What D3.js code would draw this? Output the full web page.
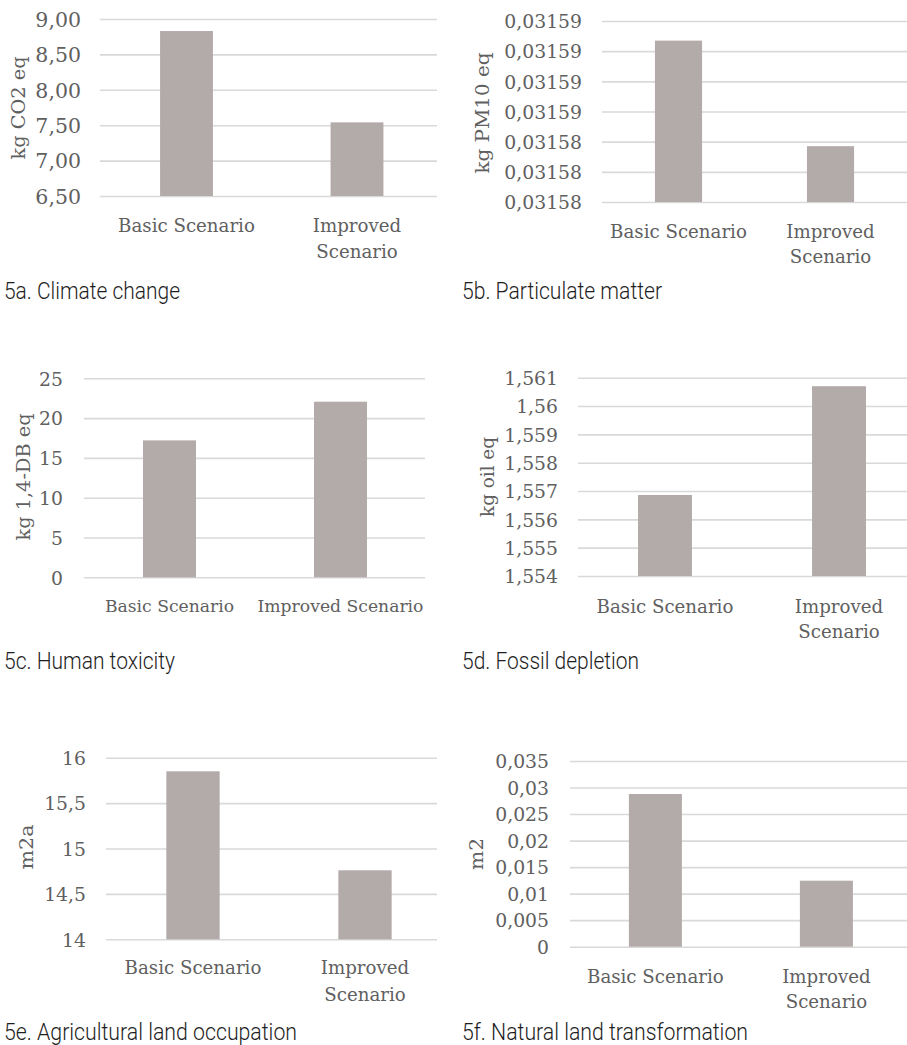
<!DOCTYPE html>
<html>
<head>
<meta charset="utf-8">
<script src="https://cdn.jsdelivr.net/npm/d3@7"></script>
<style>
  html, body { margin: 0; padding: 0; background: #ffffff; }
  svg { display: block; }
</style>
</head>
<body>
<svg id="chart" width="907" height="1045"></svg>
<script>
// ---------------- DATA ----------------
const categories = ["Basic Scenario", "Improved Scenario"];

const climateValues  = [8.83, 7.54];
const pmValues       = [0.0315907, 0.0315837];
const toxValues      = [17.2, 22.06];
const fossilValues   = [1.55686, 1.5607];
const agriValues     = [15.85, 14.76];
const naturalValues  = [0.02878, 0.01244];

const climateTicks = [6.5, 7, 7.5, 8, 8.5, 9];
const pmTicks      = [0.03158, 0.031582, 0.031584, 0.031586, 0.031588, 0.03159, 0.031592];
const toxTicks     = [0, 5, 10, 15, 20, 25];
const fossilTicks  = [1.554, 1.555, 1.556, 1.557, 1.558, 1.559, 1.56, 1.561];
const agriTicks    = [14, 14.5, 15, 15.5, 16];
const naturalTicks = [0, 0.005, 0.01, 0.015, 0.02, 0.025, 0.03, 0.035];

const unitTitles = ["kg CO2 eq", "kg PM10 eq", "kg 1,4-DB eq", "kg oil eq", "m2a", "m2"];
const captions = ["5a. Climate change", "5b. Particulate matter", "5c. Human toxicity",
                  "5d. Fossil depletion", "5e. Agricultural land occupation", "5f. Natural land transformation"];

// ---------------- FORMATS ----------------
const comma = f => v => f(v).replace(".", ",");
const formats = [
  comma(d3.format(".2f")),
  comma(d3.format(".5f")),
  comma(d3.format("d")),
  comma(d3.format("~g")),
  comma(d3.format("~g")),
  comma(d3.format("~g"))
];

const seriesValues = [climateValues, pmValues, toxValues, fossilValues, agriValues, naturalValues];
const seriesTicks  = [climateTicks, pmTicks, toxTicks, fossilTicks, agriTicks, naturalTicks];

// ---------------- LAYOUT ----------------
const layout = [
  {gx0:100, gx1:437, yTop:19,    yBot:196,   c1:186.5, c2:357,   tickX:81,  tickFs:20.5, titleX:18,  titleY:108, titleLen:103,
   labFs:18.2, wrap:true,  lab1:232,   lab2:258,   capX:4,   capY:299, capLen:176},
  {gx0:602, gx1:907, yTop:21,    yBot:202,   c1:678.5, c2:830.5, tickX:582, tickFs:18.8, titleX:482, titleY:113, titleLen:121,
   labFs:18.2, wrap:true,  lab1:237.5, lab2:263,   capX:462, capY:299, capLen:200},
  {gx0:84,  gx1:425, yTop:378.3, yBot:577.3, c1:169.5, c2:340.5, tickX:63,  tickFs:18.8, titleX:23,  titleY:477, titleLen:127,
   labFs:17.2, wrap:false, lab1:611.5, lab2:0,     capX:4,   capY:669, capLen:171},
  {gx0:578, gx1:907, yTop:377.7, yBot:576,   c1:665,   c2:839,   tickX:558, tickFs:18.8, titleX:487, titleY:477, titleLen:80,
   labFs:18.2, wrap:true,  lab1:612.5, lab2:638,   capX:462, capY:669, capLen:177},
  {gx0:106, gx1:437, yTop:757.7, yBot:939.3, c1:193,   c2:365,   tickX:86,  tickFs:18.8, titleX:26,  titleY:847, titleLen:45,
   labFs:18.2, wrap:true,  lab1:974,   lab2:1000.5, capX:4,  capY:1040, capLen:293},
  {gx0:570, gx1:907, yTop:761,   yBot:946.7, c1:655.4, c2:826.4, tickX:549, tickFs:18.8, titleX:476, titleY:854, titleLen:32,
   labFs:18.2, wrap:true,  lab1:983,   lab2:1008,  capX:462, capY:1040, capLen:286}
];

const BAR = "#b2aba9";
const GRID = "#d9d9d9";
const TEXT = "#606060";
const SERIF = "'DejaVu Serif', 'Liberation Serif', serif";

const svg = d3.select("#chart");

layout.forEach((L, i) => {
  const values = seriesValues[i];
  const ticks = seriesTicks[i];
  const g = svg.append("g");

  const y = d3.scaleLinear()
    .domain([ticks[0], ticks[ticks.length - 1]])
    .range([L.yBot, L.yTop]);

  const d = L.c2 - L.c1;
  const x = d3.scaleBand()
    .domain(categories)
    .range([L.c1 - d / 2, L.c2 + d / 2])
    .paddingInner(0.69)
    .paddingOuter(0.345);

  // y axis with gridlines
  const axis = d3.axisLeft(y)
    .tickValues(ticks)
    .tickFormat(formats[i])
    .tickSize(-(L.gx1 - L.gx0))
    .tickPadding(L.gx0 - L.tickX);

  const ag = g.append("g")
    .attr("transform", `translate(${L.gx0},0)`)
    .call(axis);
  ag.select(".domain").remove();
  ag.selectAll(".tick line")
    .attr("stroke", GRID)
    .attr("stroke-width", 1.6);
  ag.selectAll(".tick text")
    .attr("fill", TEXT)
    .attr("font-family", SERIF)
    .attr("font-size", L.tickFs)
    .attr("dy", "0.36em");

  // bars
  g.selectAll("rect.bar")
    .data(values)
    .join("rect")
    .attr("class", "bar")
    .attr("x", (v, j) => x(categories[j]))
    .attr("width", x.bandwidth())
    .attr("y", v => y(v))
    .attr("height", v => y(ticks[0]) - y(v))
    .attr("fill", BAR);

  // category labels
  categories.forEach((c, j) => {
    const cx = x(c) + x.bandwidth() / 2;
    const words = c.split(" ");
    const lines = (L.wrap && j === 1) ? words : [c];
    lines.forEach((ln, k) => {
      g.append("text")
        .attr("x", cx)
        .attr("y", k === 0 ? L.lab1 : L.lab2)
        .attr("text-anchor", "middle")
        .attr("fill", TEXT)
        .attr("font-family", SERIF)
        .attr("font-size", L.labFs)
        .text(ln);
    });
  });

  // unit title
  g.append("text")
    .attr("transform", `translate(${L.titleX},${L.titleY}) rotate(-90)`)
    .attr("text-anchor", "middle")
    .attr("dy", "0.36em")
    .attr("fill", TEXT)
    .attr("font-family", SERIF)
    .attr("font-size", 19)
    .attr("textLength", L.titleLen)
    .attr("lengthAdjust", "spacingAndGlyphs")
    .text(unitTitles[i]);

  // caption
  svg.append("text")
    .attr("x", L.capX)
    .attr("y", L.capY)
    .attr("fill", "#1e1e1e")
    .attr("font-family", "Roboto, 'Noto Sans', sans-serif")
    .attr("font-weight", 300)
    .attr("font-size", 23.5)
    .attr("textLength", L.capLen)
    .attr("lengthAdjust", "spacingAndGlyphs")
    .text(captions[i]);
});
</script>
</body>
</html>
